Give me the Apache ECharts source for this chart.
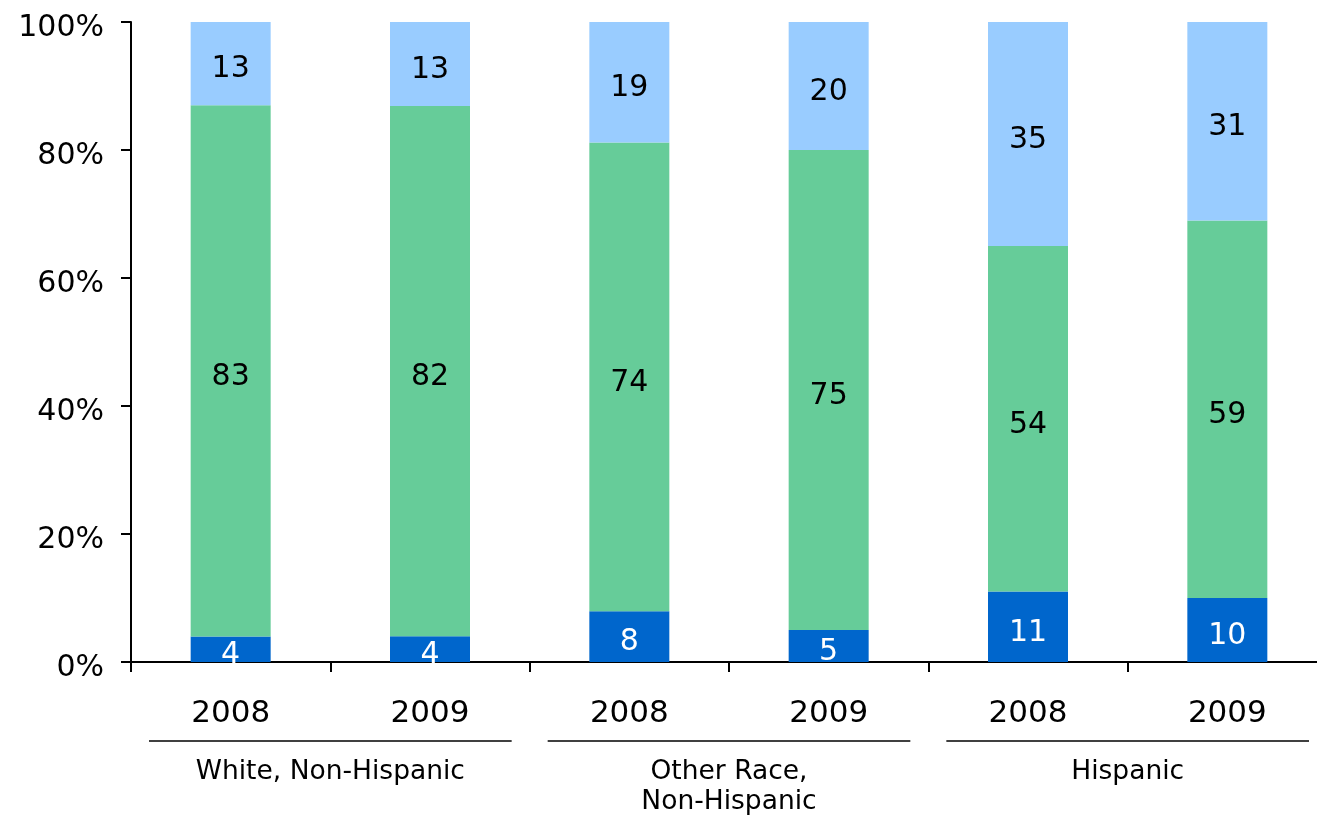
<!DOCTYPE html>
<html>
<head>
<meta charset="utf-8">
<script src="https://cdn.jsdelivr.net/npm/echarts@6/dist/echarts.min.js"></script>
<style>
html,body{margin:0;padding:0;background:#fff;}
#chart{width:1317px;height:816px;}
</style>
</head>
<body>
<div id="chart"></div>
<script>
const years = ['2008', '2009', '2008', '2009', '2008', '2009'];
const groups = ['White, Non-Hispanic', 'Other Race,\nNon-Hispanic', 'Hispanic'];
const bottomVals = [4, 4, 8, 5, 11, 10];
const middleVals = [83, 82, 74, 75, 54, 59];
const topVals = [13, 13, 19, 20, 35, 31];
const yTicks = [0, 20, 40, 60, 80, 100];

const FONT = 'DejaVu Sans';
const totals = bottomVals.map((v, i) => v + middleVals[i] + topVals[i]);
const norm = arr => arr.map((v, i) => v / totals[i] * 100);

const chart = echarts.init(document.getElementById('chart'), null, {renderer: 'canvas'});

function seriesOf(name, raw, color, labelColor) {
  return {
    name: name,
    type: 'bar',
    stack: 'all',
    xAxisIndex: 0,
    barWidth: 80,
    data: norm(raw),
    itemStyle: {color: color},
    label: {
      show: true,
      position: 'inside',
      offset: [0, 6],
      color: labelColor,
      fontFamily: FONT,
      fontSize: 30,
      formatter: p => String(raw[p.dataIndex])
    },
    emphasis: {disabled: true}
  };
}

const option = {
  animation: false,
  grid: {left: 131, top: 22, width: 1196, bottom: 154, containLabel: false, outerBoundsMode: 'none'},
  xAxis: [{
    type: 'category',
    data: years,
    position: 'bottom',
    axisLine: {show: true, lineStyle: {color: '#000', width: 2}},
    axisTick: {show: true, length: 10, inside: false, alignWithLabel: false, lineStyle: {color: '#000', width: 2}},
    axisLabel: {color: '#000', fontFamily: FONT, fontSize: 31, margin: 36, interval: 0}
  }, {
    type: 'category',
    data: groups,
    position: 'bottom',
    axisLine: {show: false},
    axisTick: {show: false},
    axisLabel: {color: '#000', fontFamily: FONT, fontSize: 26.5, lineHeight: 30, margin: 95, interval: 0}
  }],
  yAxis: {
    type: 'value',
    min: yTicks[0],
    max: yTicks[yTicks.length - 1],
    interval: yTicks[1] - yTicks[0],
    axisLine: {show: true, lineStyle: {color: '#000', width: 2}},
    axisTick: {show: true, length: 10, inside: false, lineStyle: {color: '#000', width: 2}},
    splitLine: {show: false},
    axisLabel: {color: '#000', fontFamily: FONT, fontSize: 30, margin: 27, verticalAlign: 'top', lineHeight: 12, formatter: '{value}%'}
  },
  series: [
    seriesOf('bottom', bottomVals, '#0066CC', '#fff'),
    seriesOf('middle', middleVals, '#66CC99', '#000'),
    seriesOf('top', topVals, '#99CCFF', '#000')
  ]
};
chart.setOption(option);

// group underlines, positioned from the category scale
const lines = [];
const lineY = 741;
for (let g = 0; g < groups.length; g++) {
  const a = chart.convertToPixel({xAxisIndex: 0}, g * 2);
  const b = chart.convertToPixel({xAxisIndex: 0}, g * 2 + 1);
  const half = (b - a) / 2;
  lines.push({
    type: 'line',
    shape: {x1: a - half + 18, y1: lineY, x2: b + half - 18, y2: lineY},
    style: {stroke: '#000', lineWidth: 1.5}
  });
}
chart.setOption({graphic: lines});
</script>
</body>
</html>
